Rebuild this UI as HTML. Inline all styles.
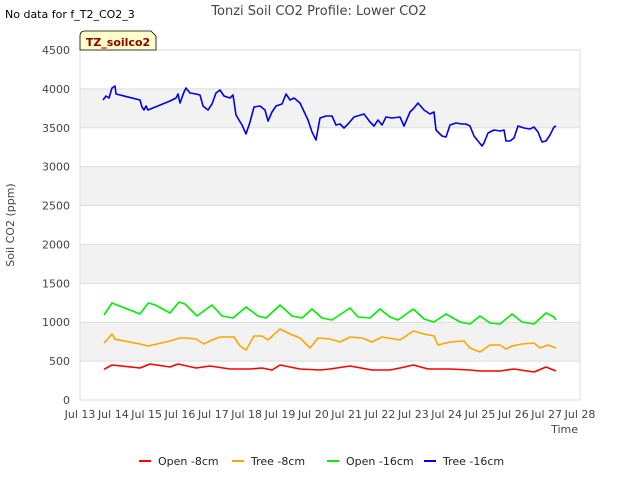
<!DOCTYPE html>
<html><head><meta charset="utf-8"><style>
body{margin:0;background:#fff;font-family:"Liberation Sans","DejaVu Sans",sans-serif}
svg text{font-family:"DejaVu Sans","Liberation Sans",sans-serif}
</style></head><body>
<svg id="c" width="640" height="480" xmlns="http://www.w3.org/2000/svg">
<text x="5" y="18" font-size="11" fill="#000">No data for f_T2_CO2_3</text>
<text x="319" y="15" font-size="13" fill="#444" text-anchor="middle">Tonzi Soil CO2 Profile: Lower CO2</text>
<g id="bands"></g>
<rect x="80" y="50" width="500" height="350" fill="none" stroke="#ddd"/>
<g id="yt"></g>
<g id="xt"></g>
<g id="series"></g>
<text x="14" y="225" font-size="11" fill="#444" text-anchor="middle" transform="rotate(-90 14 225)">Soil CO2 (ppm)</text>
<text x="578" y="433" font-size="11" fill="#444" text-anchor="end">Time</text>
<g>
<path d="M80,50 L80,36 Q80,31 85,31 L151,31 L156,36 L156,50 Z" fill="#ffffcc" stroke="#000" stroke-width="0.8"/>
<text x="118" y="46" font-size="11" font-weight="bold" fill="#8b0000" text-anchor="middle">TZ_soilco2</text>
</g>
<g id="legend"></g>
</svg>
<script>
const yTicks=[0,500,1000,1500,2000,2500,3000,3500,4000,4500];
const xTickDays=[13,14,15,16,17,18,19,20,21,22,23,24,25,26,27,28];
const seriesNames=["Open -8cm","Tree -8cm","Open -16cm","Tree -16cm"];
const seriesColors=["#ff0000","#ffa500","#00ee00","#0000ee"];
const redDays=[13.72,13.96,14.8,15.1,15.7,15.94,16.48,16.9,17.5,17.8,18.1,18.46,18.76,19.0,19.6,20.2,20.5,21.1,21.76,22.3,22.6,23.0,23.44,24.1,24.7,25.0,25.6,26.02,26.62,26.98,27.28];
const redVals=[395,450,411,463,424,463,411,437,399,399,399,411,386,450,399,386,399,437,386,386,411,450,399,399,386,373,373,399,360,424,373];
const orangeDays=[13.72,13.78,13.96,14.05,14.8,15.04,15.7,16.0,16.18,16.48,16.72,16.96,17.2,17.62,17.8,17.98,18.22,18.46,18.64,19.0,19.3,19.6,19.9,20.14,20.5,20.8,21.1,21.46,21.76,22.06,22.6,23.0,23.32,23.62,23.74,24.1,24.52,24.7,25.0,25.3,25.6,25.78,25.96,26.26,26.62,26.8,27.04,27.28];
const orangeVals=[733,760,849,780,720,694,759,797,797,784,720,771,810,810,694,643,823,823,771,913,849,797,669,797,784,746,810,797,746,810,771,887,849,823,707,746,759,669,617,707,707,656,694,720,733,669,707,669];
const greenDays=[13.72,13.96,14.8,15.05,15.26,15.7,15.97,16.15,16.51,16.96,17.26,17.59,17.98,18.34,18.58,19.0,19.36,19.66,19.96,20.26,20.56,21.1,21.34,21.7,22.0,22.3,22.54,23.0,23.32,23.62,23.98,24.4,24.7,25.0,25.3,25.6,25.96,26.26,26.62,26.98,27.22,27.28];
const greenVals=[1093,1247,1106,1247,1221,1119,1260,1234,1080,1221,1080,1054,1196,1080,1054,1221,1080,1054,1170,1054,1029,1183,1067,1054,1170,1067,1029,1170,1041,1003,1106,1003,977,1080,990,977,1106,1003,977,1119,1067,1029];
const blueDays=[13.69,13.78,13.87,13.96,14.05,14.08,14.8,14.86,14.92,14.98,15.04,15.7,15.88,15.94,16.0,16.12,16.18,16.3,16.48,16.6,16.69,16.84,16.96,17.08,17.2,17.32,17.5,17.59,17.68,17.86,17.98,18.1,18.22,18.4,18.55,18.64,18.76,18.88,19.06,19.18,19.3,19.42,19.6,19.84,19.96,20.08,20.2,20.38,20.56,20.68,20.8,20.92,21.04,21.22,21.52,21.7,21.82,21.94,22.06,22.18,22.36,22.6,22.72,22.9,23.02,23.14,23.32,23.5,23.62,23.68,23.86,23.98,24.1,24.28,24.46,24.58,24.7,24.82,24.94,25.06,25.12,25.24,25.42,25.6,25.72,25.78,25.9,26.02,26.14,26.32,26.5,26.62,26.74,26.86,26.98,27.1,27.22,27.28];
const blueVals=[3857,3909,3883,4011,4037,3934,3857,3767,3729,3780,3729,3844,3883,3934,3819,3960,4011,3947,3934,3922,3780,3729,3806,3947,3986,3909,3883,3922,3664,3536,3420,3574,3767,3780,3729,3587,3703,3780,3806,3934,3857,3883,3819,3600,3446,3343,3626,3651,3651,3536,3549,3497,3549,3639,3677,3574,3523,3600,3536,3639,3626,3639,3523,3703,3754,3819,3729,3677,3703,3471,3394,3381,3536,3561,3549,3549,3523,3394,3330,3266,3304,3433,3471,3459,3471,3330,3330,3369,3523,3497,3484,3510,3446,3317,3330,3407,3510,3523];
const NS="http://www.w3.org/2000/svg";
const X0=80,X1=580,Y0=400,Y1=50,D0=13,D1=28,V0=0,V1=4500;
function xs(d){return X0+(d-D0)/(D1-D0)*(X1-X0);}
function ys(v){return Y0-(v-V0)/(V1-V0)*(Y0-Y1);}
function mk(t,a,p){const e=document.createElementNS(NS,t);for(const k in a)e.setAttribute(k,a[k]);p.appendChild(e);return e;}
const bands=document.getElementById('bands');
for(let i=0;i<yTicks.length-1;i++){
  if(i%2===1){const r=mk('rect',{x:X0,y:ys(yTicks[i+1]),width:X1-X0,height:ys(yTicks[i])-ys(yTicks[i+1]),fill:'#f2f2f2'},bands);
  
  }
}
const yt=document.getElementById('yt');
yTicks.forEach(v=>{
  const l=mk('line',{x1:X0,x2:X1,y1:ys(v),y2:ys(v),stroke:'#ddd','stroke-width':1},yt);
  
  
  const t=mk('text',{x:X0-10,y:ys(v)+4,'font-size':11,fill:'#444','text-anchor':'end'},yt);
  t.textContent=v;
  
  
});
const xt=document.getElementById('xt');
xTickDays.forEach(d=>{
  const t=mk('text',{x:xs(d),y:418,'font-size':11,fill:'#444','text-anchor':'middle'},xt);
  t.textContent='Jul '+d;
  
  
});
const sg=document.getElementById('series');
const all=[[redDays,redVals],[orangeDays,orangeVals],[greenDays,greenVals],[blueDays,blueVals]];
all.forEach((s,i)=>{
  const pts=s[0].map((d,j)=>xs(d).toFixed(1)+','+ys(s[1][j]).toFixed(1)).join(' ');
  const p=mk('polyline',{points:pts,fill:'none',stroke:seriesColors[i],'stroke-width':1.6,'stroke-linejoin':'round'},sg);
  
  
});
const lg=document.getElementById('legend');
const lx=[139,232,327,424];
seriesNames.forEach((n,i)=>{
  const g=mk('g',{},lg);
  
  
  mk('line',{x1:lx[i],x2:lx[i]+12,y1:461,y2:461,stroke:seriesColors[i],'stroke-width':2},g);
  const t=mk('text',{x:lx[i]+19,y:465,'font-size':11,fill:'#222'},g);
  t.textContent=n;
});
</script>
</body></html>
